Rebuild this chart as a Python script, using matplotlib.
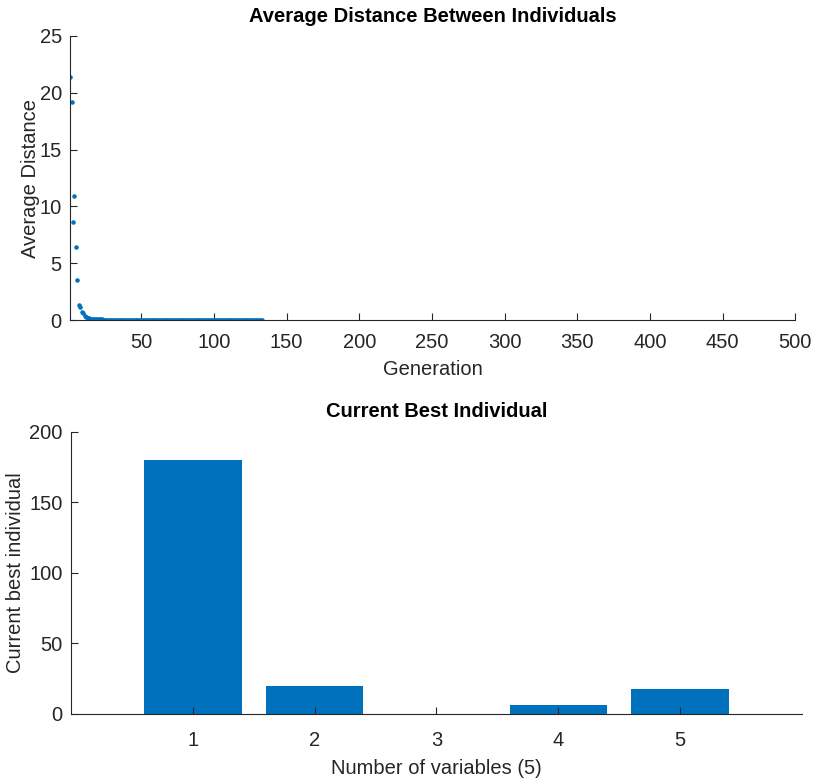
import matplotlib
matplotlib.use("Agg")
import matplotlib.pyplot as plt
import numpy as np

plt.rcParams['font.family'] = ['Liberation Sans', 'DejaVu Sans']

# average distance per generation
avg_distance = [
    21.4, 19.2, 8.6, 10.9, 6.4, 3.5, 1.3, 1.15, 0.75, 0.6,
    0.4, 0.3, 0.22, 0.18, 0.15, 0.12, 0.11, 0.1, 0.09, 0.08,
    0.08, 0.07, 0.07, 0.06, 0.06, 0.06, 0.05, 0.05, 0.05, 0.05,
    0.05, 0.04, 0.04, 0.05, 0.04, 0.04, 0.04, 0.04, 0.03, 0.04,
    0.04, 0.03, 0.03, 0.04, 0.03, 0.03, 0.03, 0.03, 0.03, 0.03,
    0.03, 0.03, 0.02, 0.03, 0.03, 0.02, 0.03, 0.02, 0.02, 0.03,
    0.02, 0.02, 0.02, 0.02, 0.02, 0.03, 0.02, 0.02, 0.02, 0.02,
    0.02, 0.02, 0.02, 0.02, 0.02, 0.02, 0.02, 0.02, 0.02, 0.02,
    0.02, 0.02, 0.02, 0.02, 0.02, 0.02, 0.02, 0.02, 0.02, 0.02,
    0.02, 0.02, 0.02, 0.02, 0.02, 0.02, 0.02, 0.02, 0.02, 0.02,
    0.02, 0.02, 0.02, 0.02, 0.02, 0.02, 0.02, 0.02, 0.02, 0.02,
    0.02, 0.02, 0.02, 0.02, 0.02, 0.02, 0.02, 0.02, 0.02, 0.02,
    0.02, 0.02, 0.02, 0.02, 0.02, 0.02, 0.02, 0.02, 0.02, 0.02,
    0.02, 0.02, 0.02,
]
generations = np.arange(1, len(avg_distance) + 1)

# current best individual
variables = [1, 2, 3, 4, 5]
best_individual = [180, 19.5, 0, 6.5, 17.5]

blue = '#0072BD'
dark = '#262626'

fig = plt.figure(figsize=(8.25, 7.81), dpi=100)

# Average distance plot
ax1 = fig.add_axes([0.085, 0.590, 0.879, 0.364])
ax1.plot(generations, avg_distance, '.', color=blue, markersize=4.5)
ax1.set_xlim(1, 500)
ax1.set_ylim(0, 25)
ax1.set_xticks(np.arange(50, 501, 50))
ax1.set_yticks(np.arange(0, 26, 5))
ax1.set_title("Average Distance Between Individuals", fontsize=14.5, fontweight='bold', pad=10)
ax1.set_xlabel("Generation", fontsize=14.5, color=dark, labelpad=6)
ax1.set_ylabel("Average Distance", fontsize=14.5, color=dark, labelpad=0)

# Current best individual plot
ax2 = fig.add_axes([0.086, 0.086, 0.886, 0.361])
ax2.bar(variables, best_individual, width=0.8, color=blue)
ax2.set_xlim(0, 6)
ax2.set_ylim(0, 200)
ax2.set_xticks(variables)
ax2.set_yticks(np.arange(0, 201, 50))
ax2.set_title("Current Best Individual", fontsize=14.5, fontweight='bold', pad=11)
ax2.set_xlabel("Number of variables (5)", fontsize=14.5, color=dark, labelpad=7)
ax2.set_ylabel("Current best individual", fontsize=14.5, color=dark, labelpad=3)

for ax in (ax1, ax2):
    ax.spines['top'].set_visible(False)
    ax.spines['right'].set_visible(False)
    ax.spines['left'].set_color(dark)
    ax.spines['bottom'].set_color(dark)
    ax.tick_params(direction='in', length=5, labelsize=14.5, colors=dark, pad=6)
ax1.tick_params(axis='x', pad=9)
ax2.tick_params(axis='x', pad=12)

fig.savefig("out.png", dpi=100)
